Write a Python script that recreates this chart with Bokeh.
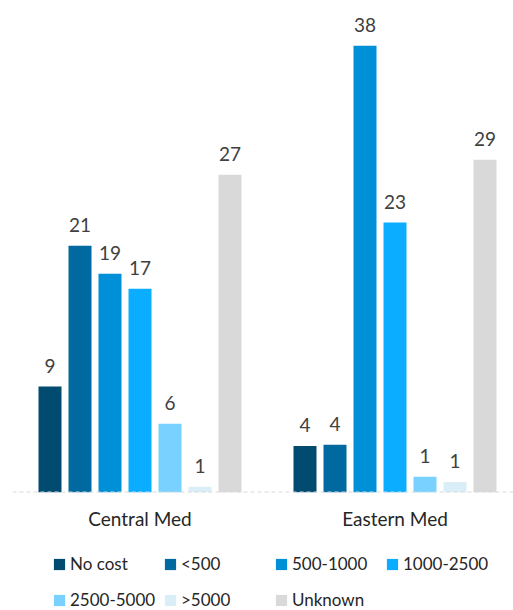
from bokeh.plotting import figure
from bokeh.layouts import column
from bokeh.models import Range1d, FixedTicker, Span, Legend, LegendItem, ColumnDataSource
from bokeh.core.properties import value
from bokeh.embed import file_html
from bokeh.resources import INLINE
import numpy as np

regions = ["Central Med", "Eastern Med"]
series = ["No cost", "<500", "500-1000", "1000-2500", "2500-5000", ">5000", "Unknown"]
colors = ["#004B6F", "#0069A0", "#0090D8", "#0AADFF", "#78D1FF", "#DAEEF7", "#D9D9D9"]
# bar heights (percent), and printed labels
central = [9.1, 21.2, 18.8, 17.5, 5.9, 0.5, 27.3]
eastern = [4.0, 4.1, 38.4, 23.2, 1.35, 0.9, 28.6]
central_labels = ["9", "21", "19", "17", "6", "1", "27"]
eastern_labels = ["4", "4", "38", "23", "1", "1", "29"]

FONT = "Lato"
step = 30 / 255
bar_w = 23 / 255

p = figure(width=513, height=540, x_range=Range1d(-0.5, 1.4647), y_range=Range1d(0, 42.28),
           output_backend="svg", toolbar_location=None,
           min_border_left=12, min_border_right=0, min_border_top=0, min_border_bottom=48)
p.outline_line_color = None
p.xgrid.visible = False
p.ygrid.visible = False
p.yaxis.visible = False

for i, name in enumerate(series):
    xs = np.arange(len(regions)) + (i - 3) * step
    tops = [central[i], eastern[i]]
    labs = [central_labels[i], eastern_labels[i]]
    src = ColumnDataSource(dict(x=xs, top=tops, lab=labs))
    p.vbar(x="x", top="top", width=bar_w, source=src, fill_color=colors[i], line_color=None)
    p.text(x="x", y="top", text="lab", source=src, text_align="center", text_baseline="alphabetic",
           y_offset=-21, text_font=value(FONT), text_font_size="19px", text_color="#404040")

base = Span(location=0, dimension="width", line_color="#D9D9D9", line_width=2, line_dash="4 3")
p.add_layout(base)

xa = p.xaxis[0]
xa.ticker = FixedTicker(ticks=[0, 1])
xa.major_label_overrides = {0: "Central Med", 1: "Eastern Med"}
xa.axis_line_color = None
xa.major_tick_line_color = None
xa.minor_tick_line_color = None
xa.major_label_standoff = 8
xa.major_label_text_font = FONT
xa.major_label_text_font_size = "19px"
xa.major_label_text_color = "#262626"

# legend panel
q = figure(width=513, height=70, x_range=Range1d(0, 1), y_range=Range1d(0, 1),
           output_backend="svg", toolbar_location=None,
           min_border_left=0, min_border_right=0, min_border_top=0, min_border_bottom=0)
q.outline_line_color = None
q.axis.visible = False
q.grid.visible = False

items = []
for i, name in enumerate(series):
    # swatch renderer kept outside the visible range; only its legend entry is seen
    r = q.vbar(x=[5], top=[1], width=0.1, fill_color=colors[i], line_color=None)
    items.append(LegendItem(label=name, renderers=[r]))

common = dict(orientation="horizontal", glyph_width=14, glyph_height=14, label_standoff=4,
              label_width=89, label_height=14, spacing=4, padding=0, margin=0,
              border_line_color=None, background_fill_alpha=0,
              label_text_font=FONT, label_text_font_size="17px", label_text_color="#262626")
leg1 = Legend(items=items[:4], location=(40, 36), **common)
leg2 = Legend(items=items[4:], location=(40, 0), **common)
q.add_layout(leg1, "center")
q.add_layout(leg2, "center")

open("out.html", "w").write(file_html(column(p, q), INLINE))
